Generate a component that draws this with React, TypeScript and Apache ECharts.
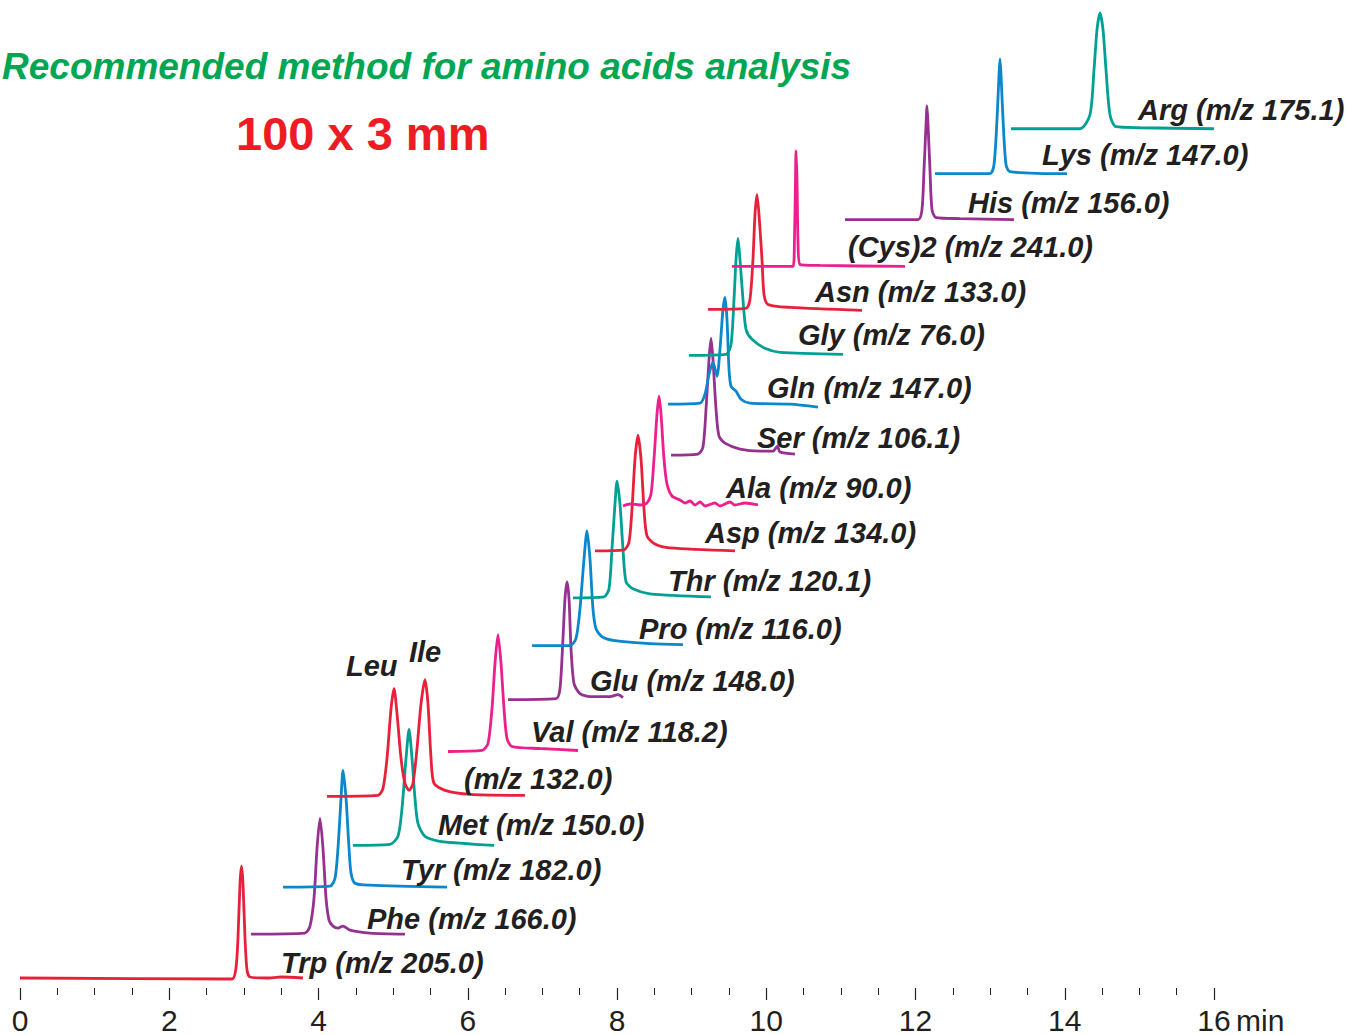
import { useEffect, useRef } from "react";
import * as echarts from "echarts";

// x-axis tick values (minutes)
const xTickLabels = [0, 2, 4, 6, 8, 10, 12, 14, 16];

// Chromatogram traces: [retention time (min), stacked intensity (a.u.)]
const trp = [[0, 10], [2.841, 9], [2.894, 20], [2.921, 50], [2.948, 105], [2.968, 122], [2.988, 105], [3.015, 50], [3.042, 18], [3.082, 11], [3.3, 10], [3.5, 11], [3.792, 10]];
const phe = [[3.095, 54], [3.819, 55], [3.886, 62], [3.94, 90], [3.98, 140], [4.02, 170], [4.06, 140], [4.101, 90], [4.141, 68], [4.194, 62], [4.261, 60], [4.328, 62], [4.422, 58], [4.69, 55], [5.159, 54]];
const tyr = [[3.524, 101], [4.154, 102], [4.221, 110], [4.261, 140], [4.302, 190], [4.328, 218], [4.369, 190], [4.409, 140], [4.436, 115], [4.489, 105], [4.69, 103], [5.722, 101]];
const met = [[4.462, 143], [4.958, 144], [5.065, 152], [5.119, 180], [5.173, 230], [5.213, 259], [5.253, 230], [5.293, 190], [5.333, 165], [5.427, 152], [5.628, 147], [6.352, 143]];
const leuIle = [[4.114, 192], [4.797, 193], [4.864, 200], [4.918, 230], [4.972, 280], [5.012, 300], [5.052, 275], [5.106, 230], [5.159, 205], [5.213, 198], [5.266, 205], [5.32, 240], [5.374, 285], [5.427, 309], [5.467, 285], [5.508, 230], [5.548, 205], [5.695, 198], [6.03, 194], [6.767, 193]];
const val = [[5.735, 237], [6.191, 238], [6.271, 245], [6.325, 280], [6.365, 325], [6.405, 354], [6.446, 325], [6.486, 280], [6.526, 250], [6.593, 242], [6.968, 240], [7.477, 238]];
const glu = [[6.539, 289], [7.183, 290], [7.236, 300], [7.276, 350], [7.303, 390], [7.33, 407], [7.357, 390], [7.384, 340], [7.424, 305], [7.504, 295], [7.638, 292], [7.906, 292], [8.013, 294], [8.08, 291]];
const pro = [[6.861, 343], [7.37, 343], [7.45, 350], [7.504, 380], [7.558, 430], [7.598, 458], [7.638, 430], [7.678, 380], [7.719, 360], [7.799, 352], [7.973, 348], [8.442, 345], [8.884, 344]];
const thr = [[7.41, 391], [7.826, 392], [7.893, 400], [7.933, 440], [7.973, 485], [8.0, 508], [8.04, 485], [8.08, 440], [8.121, 407], [8.214, 400], [8.442, 395], [9.26, 392]];
const asp = [[7.705, 438], [8.094, 439], [8.161, 447], [8.201, 480], [8.241, 530], [8.281, 554], [8.322, 530], [8.362, 480], [8.402, 453], [8.509, 445], [8.71, 441], [9.581, 438]];
const ala = [[8.08, 483], [8.174, 485], [8.308, 484], [8.402, 486], [8.456, 495], [8.496, 530], [8.536, 575], [8.563, 593], [8.59, 575], [8.63, 530], [8.67, 505], [8.737, 493], [8.844, 489], [8.911, 486], [8.978, 488], [9.045, 484], [9.112, 487], [9.18, 483], [9.313, 486], [9.38, 483], [9.514, 487], [9.58, 484], [9.715, 486], [9.889, 484]];
const ser = [[8.724, 534], [9.085, 535], [9.152, 542], [9.193, 580], [9.233, 630], [9.26, 651], [9.286, 630], [9.327, 580], [9.367, 553], [9.447, 546], [9.648, 540], [9.916, 538], [10.09, 538], [10.15, 543], [10.184, 537], [10.385, 535]];
const gln = [[8.683, 585], [9.112, 586], [9.179, 595], [9.233, 615], [9.286, 627], [9.34, 613], [9.38, 640], [9.42, 680], [9.447, 692], [9.474, 670], [9.501, 620], [9.528, 603], [9.595, 598], [9.662, 590], [9.782, 586], [10.318, 585], [10.693, 582]];
const gly = [[8.965, 634], [9.461, 635], [9.528, 645], [9.568, 690], [9.595, 730], [9.621, 751], [9.648, 730], [9.688, 690], [9.729, 660], [9.809, 650], [9.983, 641], [10.184, 637], [11.028, 635]];
const asn = [[9.219, 680], [9.729, 681], [9.782, 690], [9.822, 730], [9.849, 775], [9.876, 795], [9.903, 775], [9.943, 730], [9.97, 695], [10.023, 685], [10.318, 682], [11.283, 679]];
const cys2 = [[9.541, 723], [10.358, 723], [10.378, 750], [10.392, 810], [10.399, 839], [10.412, 810], [10.425, 750], [10.452, 725], [10.72, 724], [11.859, 723]];
const his = [[11.055, 770], [12.034, 770], [12.087, 780], [12.114, 820], [12.141, 865], [12.154, 884], [12.168, 865], [12.194, 820], [12.221, 780], [12.275, 772], [12.596, 771], [13.32, 770]];
const lys = [[12.261, 816], [12.998, 816], [13.052, 825], [13.092, 870], [13.119, 915], [13.132, 931], [13.146, 915], [13.173, 870], [13.213, 825], [13.266, 818], [14.03, 816]];
const arg = [[13.28, 861], [14.204, 861], [14.338, 875], [14.392, 920], [14.432, 960], [14.472, 977], [14.513, 960], [14.553, 920], [14.606, 875], [14.687, 863], [15.008, 862], [16.0, 861]];

const traces = [trp, phe, tyr, met, leuIle, val, glu, pro, thr, asp, ala, ser, gln, gly, asn, cys2, his, lys, arg];
const traceNames = ["Trp", "Phe", "Tyr", "Met", "Leu/Ile", "Val", "Glu", "Pro", "Thr", "Asp", "Ala", "Ser", "Gln", "Gly", "Asn", "(Cys)2", "His", "Lys", "Arg"];

// Peak label texts
const peakLabels = [
  "Trp (m/z 205.0)", "Phe (m/z 166.0)", "Tyr (m/z 182.0)", "Met (m/z 150.0)", "(m/z 132.0)",
  "Val (m/z 118.2)", "Glu (m/z 148.0)", "Pro (m/z 116.0)", "Thr (m/z 120.1)", "Asp (m/z 134.0)",
  "Ala (m/z 90.0)", "Ser (m/z 106.1)", "Gln (m/z 147.0)", "Gly (m/z 76.0)", "Asn (m/z 133.0)",
  "(Cys)2 (m/z 241.0)", "His (m/z 156.0)", "Lys (m/z 147.0)", "Arg (m/z 175.1)", "Leu", "Ile",
];

// Layout (pixel positions of labels: left x, center y)
const labelPos = [
  [281, 963], [367, 919], [401, 870], [438, 825], [464, 779],
  [531, 732], [590, 681], [639, 629], [668, 581], [705, 533],
  [726, 488], [757, 438], [767, 388], [798, 335], [815, 292],
  [848, 247], [968, 203], [1042, 155], [1138, 110], [346, 666], [409, 652],
];

const palette = { red: "#e8213b", purple: "#96318f", blue: "#0b87cc", teal: "#00a094", pink: "#ec1f8c" };
const traceColors = [
  palette.red, palette.purple, palette.blue, palette.teal, palette.red, palette.pink,
  palette.purple, palette.blue, palette.teal, palette.red, palette.pink, palette.purple,
  palette.blue, palette.teal, palette.red, palette.pink, palette.purple, palette.blue, palette.teal,
];

const TEXT = "#231f20";
const FONT = "'Liberation Sans', Arial, Helvetica, sans-serif";

export default function App() {
  const ref = useRef<HTMLDivElement>(null);
  useEffect(() => {
    if (!ref.current) return;
    const chart = echarts.init(ref.current, null, { renderer: "svg" });
    const graphic: any[] = [];
    peakLabels.forEach((t, i) => {
      graphic.push({
        type: "text",
        x: labelPos[i][0],
        y: labelPos[i][1],
        style: {
          text: t,
          fill: TEXT,
          font: `italic bold 29px ${FONT}`,
          textVerticalAlign: "middle",
          textAlign: "left",
        },
        z: 10,
      });
    });
    graphic.push({
      type: "text",
      x: 2,
      y: 66,
      style: {
        text: "Recommended method for amino acids analysis",
        fill: "#00a651",
        font: `italic bold 37px ${FONT}`,
        textVerticalAlign: "middle",
      },
    });
    graphic.push({
      type: "text",
      x: 236,
      y: 133,
      style: {
        text: "100 x 3 mm",
        fill: "#ed1c24",
        font: `bold 47px ${FONT}`,
        textVerticalAlign: "middle",
      },
    });
    graphic.push({
      type: "text",
      x: 1236,
      y: 1020,
      style: {
        text: "min",
        fill: TEXT,
        font: `30px ${FONT}`,
        textVerticalAlign: "middle",
      },
    });

    chart.setOption({
      animation: false,
      backgroundColor: "#ffffff",
      grid: { left: 20, right: 132, top: 0, bottom: 45, containLabel: false },
      xAxis: {
        type: "value",
        min: 0,
        max: 16,
        interval: 2,
        axisLine: { show: false },
        axisTick: { show: true, length: 12, lineStyle: { color: TEXT, width: 1.2 } },
        minorTick: { show: true, splitNumber: 4, length: 7, lineStyle: { color: TEXT, width: 1 } },
        splitLine: { show: false },
        minorSplitLine: { show: false },
        axisLabel: {
          color: TEXT,
          fontSize: 30,
          fontFamily: FONT,
          margin: 17,
          formatter: (v: number) => (xTickLabels.includes(v) ? String(v) : ""),
        },
      },
      yAxis: { type: "value", min: 0, max: 990, show: false },
      series: traces.map((d, i) => ({
        name: traceNames[i],
        type: "line",
        data: d,
        symbol: "none",
        smooth: 0.25,
        silent: true,
        lineStyle: { color: traceColors[i], width: 2.8 },
        z: 2 + i,
      })),
      graphic,
    });
    return () => chart.dispose();
  }, []);
  return <div ref={ref} style={{ position: "absolute", left: 0, top: 0, width: 1346, height: 1035 }} />;
}
